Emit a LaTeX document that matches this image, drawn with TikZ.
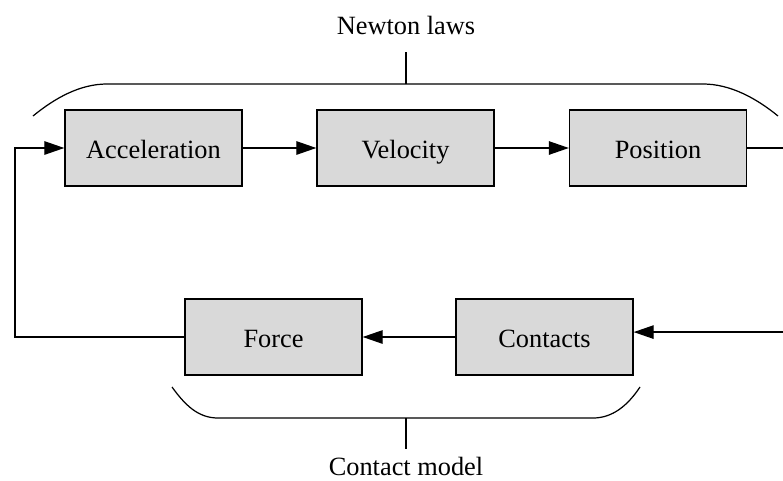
\documentclass[tikz,border=0pt]{standalone}
\usepackage{fontspec}
\setmainfont{Liberation Serif}
\usetikzlibrary{arrows.meta}

\begin{document}
\begin{tikzpicture}[->,>={Triangle[length=0.4cm,width=0.27cm]},x=0.02cm,y=-0.02cm,
                    line width=0.7pt,font=\fontsize{15}{18}\selectfont,
                    block/.style={rectangle,draw,fill=black!15,line width=0.8pt,
                                  text height=12pt,text depth=0pt,
                                  minimum width=3.54cm,minimum height=1.52cm}]

		\clip (0,0) rectangle (783,480);

		% upper row
		\node[block] (accel) at (153.5,148) {Acceleration};
		\node[block] (vel) at (405.5,148) {Velocity};
		\node[block] (pos) at (658,148) {Position};

		% lower row
		\node[block] (force) at (273.5,337) {Force};
		\node[block] (contacts) at (544.5,337) {Contacts};

		% group labels
		\node (newton) at (406,25) {Newton laws};
		\node (model) at (406,466) {Contact model};

		\path
		(accel) edge (vel)
		(vel) edge (pos)
		(contacts) edge (force);

		% feedback loops
		\coordinate (rturn) at (800,148);
		\coordinate (lturn) at (15,337);
		\draw (pos.east) -- (rturn) |- ([yshift=2.8pt]contacts.east);
		\draw (force.west) -- (lturn) |- (accel.west);

		% braces
		\draw[-] (33,116) .. controls (55,98) and (80,84) .. (107,84)
		        -- (703,84) .. controls (730,84) and (756,98) .. (778,116);
		\draw[-] (406,84) -- (406,52);
		\draw[-] (172,387) .. controls (185,405) and (198,418) .. (218,418)
		        -- (593,418) .. controls (613,418) and (628,405) .. (640,387);
		\draw[-] (406,418) -- (406,449);
	\end{tikzpicture}
\end{document}
